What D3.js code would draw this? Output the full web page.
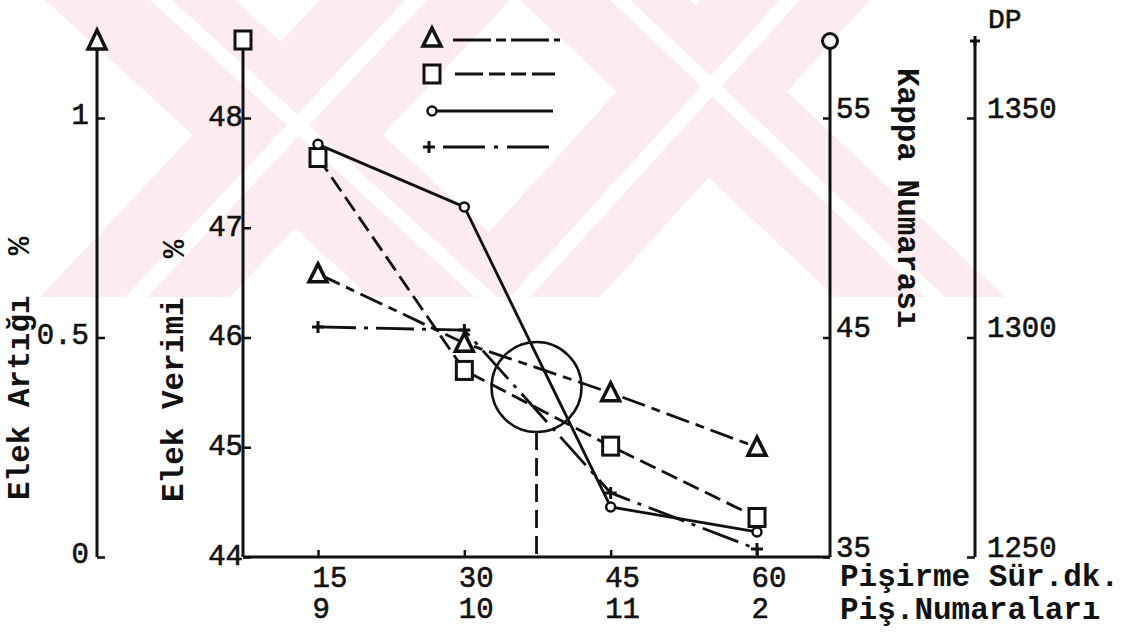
<!DOCTYPE html>
<html>
<head>
<meta charset="utf-8">
<script src="https://cdn.jsdelivr.net/npm/d3@7"></script>
<style>
  body { margin: 0; background: #fff; }
  svg { display: block; }
  text { font-family: "Liberation Mono", "DejaVu Sans Mono", monospace; fill: #111; }
</style>
</head>
<body>
<div id="main"></div>
<script>
// cooking time (min) and cook numbers
const cookTime = [15, 30, 45, 60];
const cookNo = ['9', '10', '11', '2'];

// series, one per axis
const elekArtigi = [0.645, 0.487, 0.374, 0.25];     // %  (triangle)
const elekVerimi = [47.64, 45.70, 45.01, 44.36];    // %  (square)
const kappa = [53.8, 50.95, 37.28, 36.14];          // kappa number (circle)
const dp = [1302.4, 1301.7, 1264.6, 1251.8];        // DP (plus)

// tick labels
const artigiTicks = [0, 0.5, 1];
const verimiTicks = [44, 45, 46, 47, 48];
const kappaTicks = [35, 45, 55];
const dpTicks = [1250, 1300, 1350];

// marked point (circle + dashed drop line)
const markTime = 37.4;
const markArtigi = 0.387;

const w = 1138;
const h = 638;
const ink = '#111';

const svg = d3.select('#main')
    .append('svg')
    .attr('width', w)
    .attr('height', h);

// pale watermark at the top of the scan
svg.append('clipPath').attr('id', 'wm')
    .append('rect').attr('x', 0).attr('y', 0).attr('width', w).attr('height', 297);
const wm = svg.append('g').attr('clip-path', 'url(#wm)');
const bands = [
    [[45, 0], [235, 0], [560, 297], [370, 297]],
    [[320, 0], [510, 0], [230, 297], [40, 297]],
    [[520, 0], [690, 0], [1005, 297], [835, 297]],
    [[700, 0], [870, 0], [600, 297], [430, 297]]
];
const stripes = [
    [[150, 0], [172, 0], [497, 297], [475, 297]],
    [[405, 0], [427, 0], [147, 297], [125, 297]],
    [[610, 0], [630, 0], [945, 297], [925, 297]],
    [[780, 0], [800, 0], [530, 297], [510, 297]]
];
wm.selectAll('polygon.band')
    .data(bands)
    .enter()
    .append('polygon')
    .attr('class', 'band')
    .attr('fill', '#fdecef')
    .attr('points', d => d.map(p => p.join(',')).join(' '));
wm.selectAll('polygon.stripe')
    .data(stripes)
    .enter()
    .append('polygon')
    .attr('class', 'stripe')
    .attr('fill', '#fff')
    .attr('points', d => d.map(p => p.join(',')).join(' '));

// scales
const x = d3.scaleLinear().domain([15, 60]).range([318, 757]);
const yA = d3.scaleLinear().domain([0, 1]).range([557, 118]);
const yV = d3.scaleLinear().domain([44, 48]).range([557, 118]);
const yK = d3.scaleLinear().domain([35, 55]).range([557, 118]);
const yD = d3.scaleLinear().domain([1250, 1350]).range([557, 118]);

const axisX = [97, 243, 830, 975];
const topY = 40;
const baseY = 557;

// axis lines
svg.append('g')
    .selectAll('line')
    .data(axisX)
    .enter()
    .append('line')
    .attr('x1', d => d).attr('x2', d => d)
    .attr('y1', topY).attr('y2', baseY)
    .attr('stroke', ink).attr('stroke-width', 3);

// bottom line between second and third axis
svg.append('line')
    .attr('x1', axisX[1]).attr('x2', axisX[2])
    .attr('y1', baseY).attr('y2', baseY)
    .attr('stroke', ink).attr('stroke-width', 3);

function styleAxis(g, labelX, anchor, dy) {
    g.select('.domain').remove();
    g.selectAll('.tick line').attr('stroke', ink).attr('stroke-width', 2.5);
    g.selectAll('.tick text')
        .attr('x', labelX)
        .attr('dy', dy)
        .attr('text-anchor', anchor)
        .style('font-size', '29px')
        .style('font-family', '"Liberation Mono", monospace')
        .attr('fill', ink)
        .attr('stroke', ink)
        .attr('stroke-width', 0.6);
}

svg.append('g')
    .attr('transform', `translate(${axisX[0]},0)`)
    .call(d3.axisRight(yA).tickValues(artigiTicks).tickSize(8).tickFormat(d => String(d)))
    .call(g => styleAxis(g, -8, 'end', '0.2em'));

svg.append('g')
    .attr('transform', `translate(${axisX[1]},0)`)
    .call(d3.axisRight(yV).tickValues(verimiTicks).tickSize(8).tickFormat(d => String(d)))
    .call(g => styleAxis(g, 0, 'end', '0.25em'));

svg.append('g')
    .attr('transform', `translate(${axisX[2]},0)`)
    .call(d3.axisLeft(yK).tickValues(kappaTicks).tickSize(7).tickFormat(d => String(d)))
    .call(g => styleAxis(g, 6, 'start', '-0.02em'));

svg.append('g')
    .attr('transform', `translate(${axisX[3]},0)`)
    .call(d3.axisLeft(yD).tickValues(dpTicks).tickSize(8).tickFormat(d => String(d)))
    .call(g => styleAxis(g, 12, 'start', '-0.02em'));

// x axis ticks (upwards) with two rows of labels below
const gx = svg.append('g')
    .attr('transform', `translate(0,${baseY})`)
    .call(d3.axisTop(x).tickValues(cookTime).tickSize(7).tickFormat(d => String(d)));
gx.select('.domain').remove();
gx.selectAll('.tick line').attr('stroke', ink).attr('stroke-width', 2.5);
gx.selectAll('.tick text')
    .attr('y', 30)
    .attr('dy', 0)
    .attr('x', -6)
    .attr('text-anchor', 'start')
    .style('font-size', '29px')
    .attr('fill', ink)
    .attr('stroke', ink)
    .attr('stroke-width', 0.6);
gx.selectAll('.tick')
    .append('text')
    .attr('x', -6)
    .attr('y', 61)
    .attr('text-anchor', 'start')
    .style('font-size', '29px')
    .attr('fill', ink)
    .attr('stroke', ink)
    .attr('stroke-width', 0.6)
    .text((d, i) => cookNo[i]);

// axis end markers
svg.append('path')
    .attr('d', `M${axisX[0]},${topY - 10} L${axisX[0] + 9},${topY + 9} L${axisX[0] - 9},${topY + 9} Z`)
    .attr('fill', '#fff').attr('stroke', ink).attr('stroke-width', 3.5);
svg.append('rect')
    .attr('x', axisX[1] - 8).attr('y', topY - 9)
    .attr('width', 16).attr('height', 18)
    .attr('fill', '#fff').attr('stroke', ink).attr('stroke-width', 3);
svg.append('circle')
    .attr('cx', axisX[2]).attr('cy', topY + 1).attr('r', 7.5)
    .attr('fill', '#fff').attr('stroke', ink).attr('stroke-width', 3);
svg.append('path')
    .attr('d', `M${axisX[3] - 5},${topY + 1} H${axisX[3] + 5} M${axisX[3]},${topY - 4} V${topY + 6}`)
    .attr('stroke', ink).attr('stroke-width', 3);

// axis titles
const bold = g => g.style('font-size', '31px').style('font-weight', 'bold').attr('fill', ink);
svg.append('text').attr('transform', 'translate(29,500) rotate(-90)').text('Elek Artığı').call(bold);
svg.append('text').attr('transform', 'translate(29,246) rotate(-90)').attr('text-anchor', 'middle').text('%').call(bold);
svg.append('text').attr('transform', 'translate(183,502) rotate(-90)').text('Elek Verimi').call(bold);
svg.append('text').attr('transform', 'translate(184,249) rotate(-90)').attr('text-anchor', 'middle').text('%').call(bold);
svg.append('text').attr('transform', 'translate(898,68) rotate(90)').text('Kappa Numarası').call(bold);
svg.append('text').attr('x', 988).attr('y', 28).style('font-size', '28px')
    .attr('fill', ink).attr('stroke', ink).attr('stroke-width', 0.6).text('DP');
svg.append('text').attr('x', 840).attr('y', 586).text('Pişirme Sür.dk.').call(bold);
svg.append('text').attr('x', 840).attr('y', 619).text('Piş.Numaraları').call(bold);

// series
const series = [
    { values: elekArtigi, y: yA, dash: '24,7,9,7', mark: 'tri' },
    { values: elekVerimi, y: yV, dash: '17,7', mark: 'sq' },
    { values: kappa, y: yK, dash: null, mark: 'circ' },
    { values: dp, y: yD, dash: '38,8,4,8', mark: 'plus' }
];

function drawMark(g, type, cx, cy) {
    if (type === 'tri') {
        g.append('path')
            .attr('d', `M${cx},${cy - 10} L${cx + 9},${cy + 8} L${cx - 9},${cy + 8} Z`)
            .attr('fill', '#fff').attr('stroke', ink).attr('stroke-width', 3.5);
    } else if (type === 'sq') {
        g.append('rect')
            .attr('x', cx - 8).attr('y', cy - 9)
            .attr('width', 16).attr('height', 18)
            .attr('fill', '#fff').attr('stroke', ink).attr('stroke-width', 3);
    } else if (type === 'circ') {
        g.append('circle')
            .attr('cx', cx).attr('cy', cy).attr('r', 4.5)
            .attr('fill', '#fff').attr('stroke', ink).attr('stroke-width', 2.5);
    } else {
        g.append('path')
            .attr('d', `M${cx - 6},${cy} H${cx + 6} M${cx},${cy - 6} V${cy + 6}`)
            .attr('stroke', ink).attr('stroke-width', 3);
    }
}

const lineG = svg.append('g');
const markG = svg.append('g');
series.forEach(s => {
    const line = d3.line()
        .x((d, i) => x(cookTime[i]))
        .y(d => s.y(d));
    lineG.append('path')
        .datum(s.values)
        .attr('d', line)
        .attr('fill', 'none')
        .attr('stroke', ink)
        .attr('stroke-width', 2.8)
        .attr('stroke-dasharray', s.dash);
    s.values.forEach((v, i) => drawMark(markG, s.mark, x(cookTime[i]), s.y(v)));
});

// marked region
svg.append('circle')
    .attr('cx', x(markTime)).attr('cy', yA(markArtigi)).attr('r', 45)
    .attr('fill', 'none').attr('stroke', ink).attr('stroke-width', 2.5);
svg.append('line')
    .attr('x1', x(markTime)).attr('x2', x(markTime))
    .attr('y1', yA(markArtigi) + 45).attr('y2', baseY)
    .attr('stroke', ink).attr('stroke-width', 2.8)
    .attr('stroke-dasharray', '18,8');

// legend
const legendRows = [
    { mark: 'tri', y: 40, x1: 453, x2: 560, dash: '38,5,10,5' },
    { mark: 'sq', y: 74, x1: 455, x2: 555, dash: '28,6,16,6,15,6' },
    { mark: 'circ', y: 111, x1: 437, x2: 553, dash: null },
    { mark: 'plus', y: 147, x1: 443, x2: 552, dash: '42,9,4,9' }
];
const legend = svg.append('g');
legendRows.forEach(r => {
    legend.append('line')
        .attr('x1', r.x1).attr('x2', r.x2)
        .attr('y1', r.y).attr('y2', r.y)
        .attr('stroke', ink).attr('stroke-width', 2.8)
        .attr('stroke-dasharray', r.dash);
    drawMark(legend, r.mark, r.mark === 'plus' ? 429 : 432, r.mark === 'tri' ? 38 : r.y);
});
</script>
</body>
</html>
